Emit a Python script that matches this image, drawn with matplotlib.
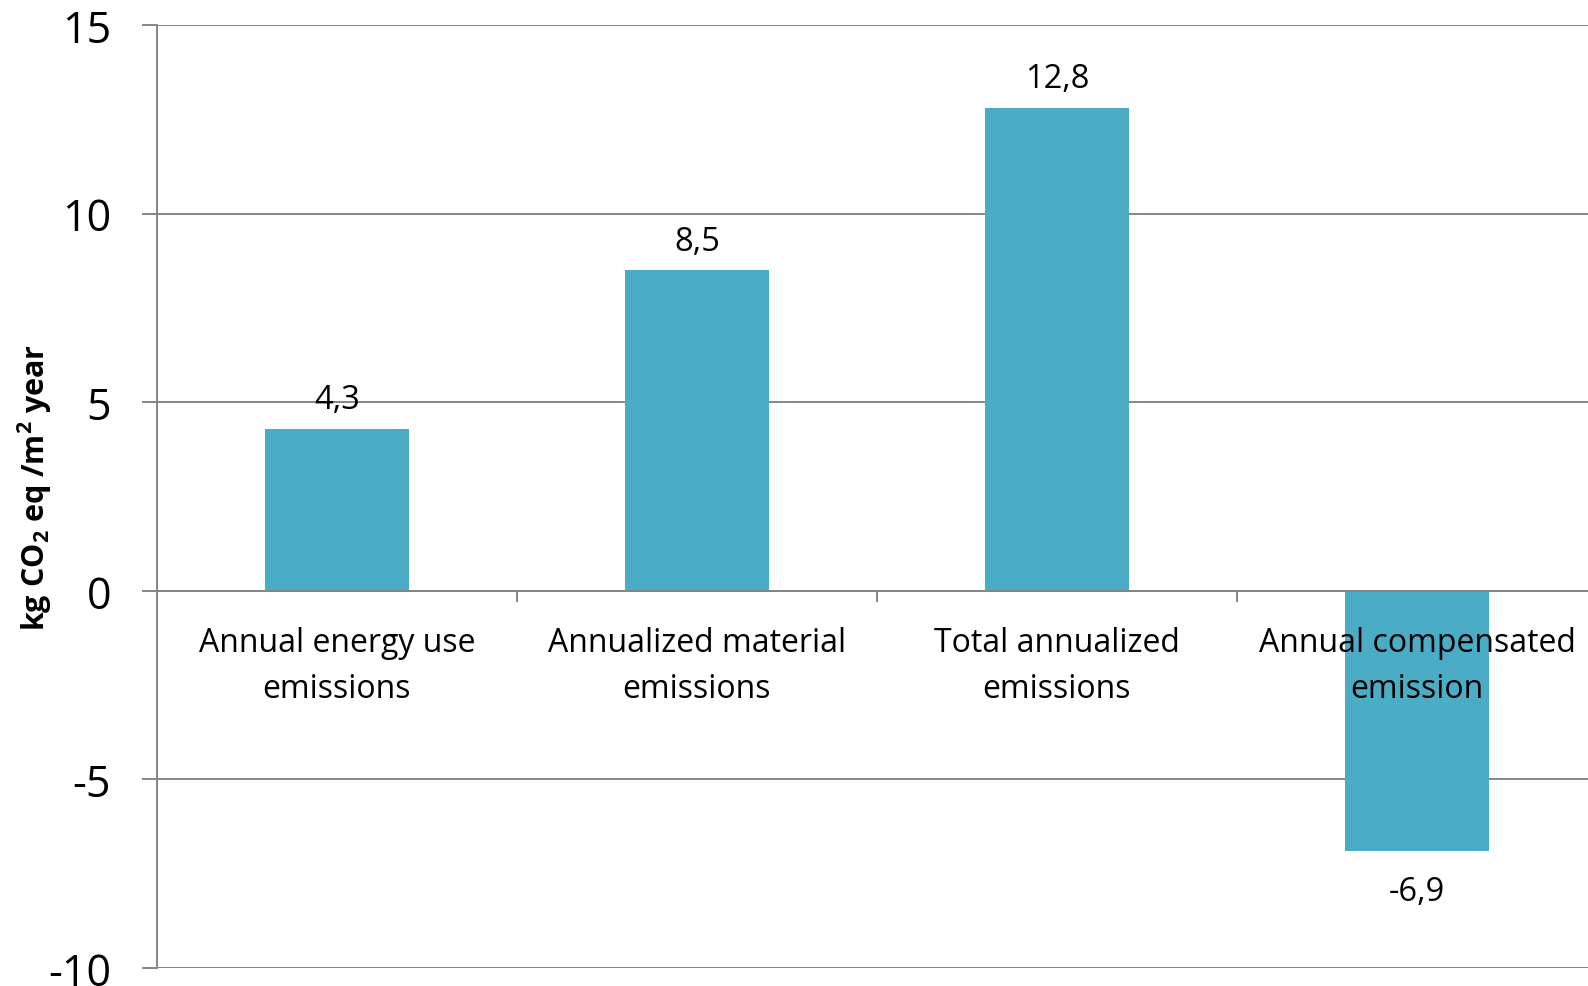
import matplotlib
matplotlib.use("Agg")
import matplotlib.pyplot as plt

plt.rcParams["font.family"] = ["Open Sans", "DejaVu Sans"]
plt.rcParams["mathtext.fontset"] = "custom"
plt.rcParams["mathtext.rm"] = "Open Sans"
plt.rcParams["mathtext.bf"] = "Open Sans:bold"

categories = ["Annual energy use\nemissions", "Annualized material\nemissions",
              "Total annualized\nemissions", "Annual compensated\nemission"]
values = [4.3, 8.5, 12.8, -6.9]
value_labels = ["4,3", "8,5", "12,8", "-6,9"]
y_ticks = [-10, -5, 0, 5, 10, 15]

bar_color = "#4BACC6"
grey = "#868686"

W, H = 1588, 987
fig = plt.figure(figsize=(W / 100, H / 100), dpi=100)
ax = fig.add_axes([157 / W, 18 / H, 1440 / W, 943 / H])

x = list(range(len(categories)))
ax.bar(x, values, width=0.4, color=bar_color, zorder=1)

for xi, v, lab in zip(x, values, value_labels):
    off = 21 if v >= 0 else -29
    ax.annotate(lab, (xi, v), xytext=(0, off), textcoords="offset points",
                ha="center", va="center", fontsize=23.5)

# category labels drawn on top of the bars
for xi, cat in zip(x, categories):
    ax.annotate(cat, (xi, 0), xytext=(0, -25), textcoords="offset points",
                ha="center", va="top", fontsize=23, linespacing=1.55,
                zorder=4, annotation_clip=False)

ax.set_xlim(-0.5, 3.5)
ax.set_ylim(-10, 15)
ax.set_yticks(y_ticks)
ax.set_yticklabels([str(t) for t in y_ticks])
ax.tick_params(axis="y", length=11, width=1.4, color=grey, pad=22, labelsize=31)
ax.grid(axis="y", color=grey, linewidth=1.4)
ax.set_axisbelow(True)

ax.set_xticks([])
ax.set_xticks([0.5, 1.5, 2.5], minor=True)
ax.tick_params(axis="x", which="minor", length=8, width=1.4, color=grey)

for s in ["top", "right"]:
    ax.spines[s].set_visible(False)
ax.spines["bottom"].set_position(("data", 0))
ax.spines["bottom"].set_color(grey)
ax.spines["bottom"].set_linewidth(1.4)
ax.spines["bottom"].set_zorder(2.5)
ax.spines["left"].set_color(grey)
ax.spines["left"].set_linewidth(1.4)

fig.text(35 / W, 1 - 487 / H, r"kg CO$_\mathbf{2}$ eq /m$^\mathbf{2}$ year",
         rotation=90, ha="center", va="center", fontsize=22, fontweight="bold")

fig.savefig("out.png", dpi=100)
